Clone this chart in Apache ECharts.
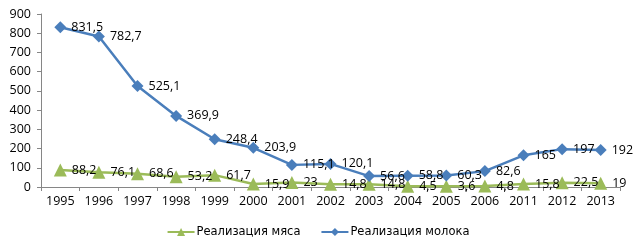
<!DOCTYPE html>
<html><head><meta charset="utf-8">
<script src="https://cdn.jsdelivr.net/npm/echarts@6/dist/echarts.min.js"></script>
<style>html,body{margin:0;padding:0;background:#fff}#c{width:636px;height:251px}</style>
</head><body><div id="c"></div>
<script>
var years = ['1995','1996','1997','1998','1999','2000','2001','2002','2003','2004','2005','2006','2011','2012','2013'];
var meat = [88.2,76.1,68.6,53.2,61.7,15.9,23,14.8,14.8,4.5,3.6,4.8,15.8,22.5,19];
var milk = [831.5,782.7,525.1,369.9,248.4,203.9,115.1,120.1,56.6,58.8,60.3,82.6,165,197,192];
var yTicks = [0,100,200,300,400,500,600,700,800,900];

function fmt(v){ return String(v).replace('.', ','); }
var chart = echarts.init(document.getElementById('c'));
var font = 'Open Sans';
var fs = 12.5;
chart.setOption({
  animation:false,
  textStyle:{fontFamily:font},
  grid:{left:41,right:16,top:14,bottom:64},
  legend:{
    bottom:8, left:'center', itemGap:20, itemWidth:27, itemHeight:10,
    textStyle:{fontFamily:'DejaVu Sans',fontSize:11.5,color:'#000',padding:[0,0,0,-3]},
    data:['Реализация мяса','Реализация молока']
  },
  xAxis:{
    type:'category', data:years, boundaryGap:true,
    axisLine:{lineStyle:{color:'#868686'}},
    axisTick:{show:true,length:4,lineStyle:{color:'#868686'}},
    axisLabel:{color:'#000',fontSize:fs,fontFamily:font,margin:8}
  },
  yAxis:{
    type:'value', min:0, max:900, interval:100,
    axisLine:{show:true,lineStyle:{color:'#868686'}},
    axisTick:{show:true,length:4,lineStyle:{color:'#868686'}},
    splitLine:{show:false},
    axisLabel:{color:'#000',fontSize:fs,fontFamily:font,margin:10,
      formatter:function(v){return yTicks.indexOf(v)>=0?String(v):'';}}
  },
  series:[
    {name:'Реализация мяса', type:'line', data:meat, symbol:'triangle', symbolSize:13,
     itemStyle:{color:'#9BBB59'}, lineStyle:{color:'#9BBB59',width:2.5},
     label:{show:true,position:'right',distance:5,color:'#000',fontSize:fs,fontFamily:font,
       formatter:function(p){return fmt(p.value);}}},
    {name:'Реализация молока', type:'line', data:milk, symbol:'diamond', symbolSize:12,
     itemStyle:{color:'#4A7EBB'}, lineStyle:{color:'#4A7EBB',width:2.5},
     label:{show:true,position:'right',distance:5,color:'#000',fontSize:fs,fontFamily:font,
       formatter:function(p){return fmt(p.value);}}}
  ]
});
</script></body></html>
